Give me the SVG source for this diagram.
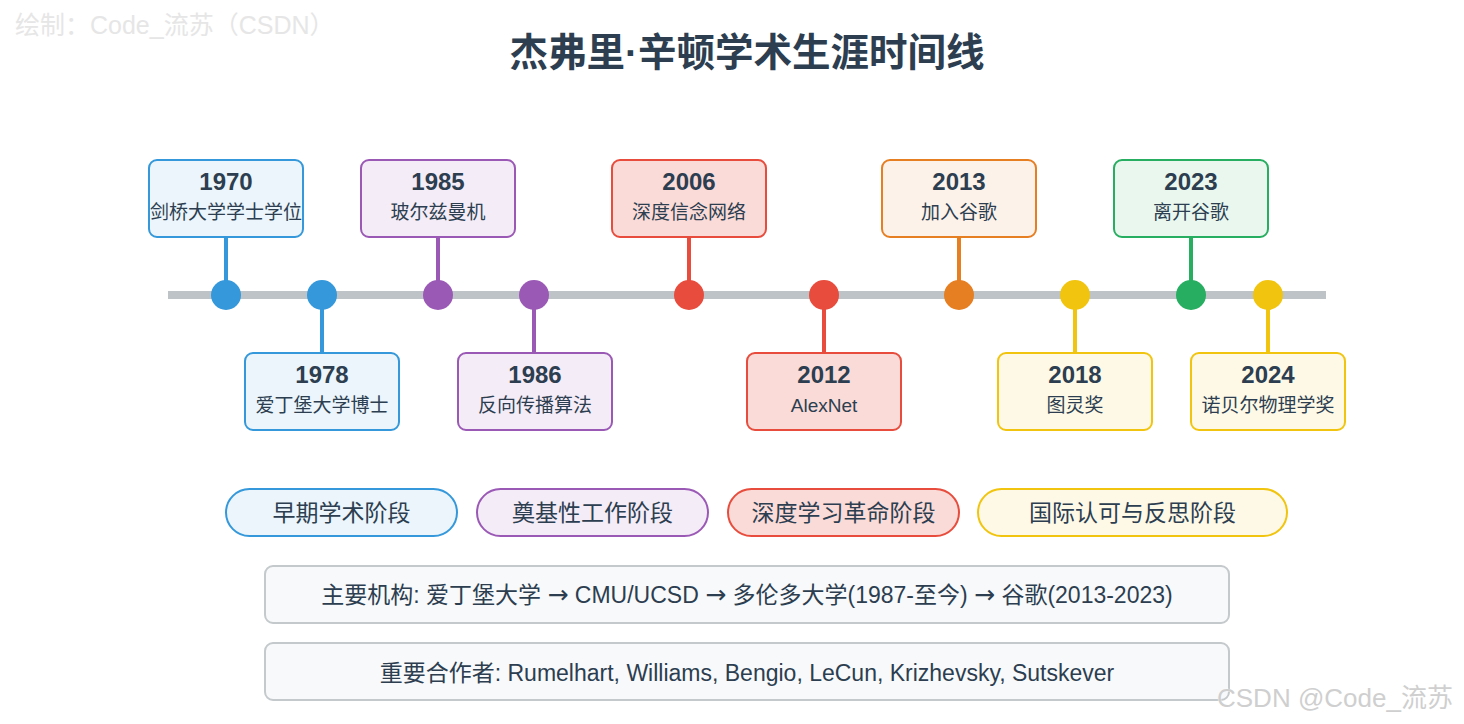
<svg xmlns="http://www.w3.org/2000/svg" width="1464" height="724" viewBox="0 0 1464 724">
<style>
text{font-family:"Liberation Sans","Noto Sans CJK SC",sans-serif;fill:#2c3e50}
.title{font-size:38.5px;font-weight:bold;text-anchor:middle}
.yr{font-size:24px;font-weight:bold;text-anchor:middle}
.ds{font-size:19px;text-anchor:middle}
.ph{font-size:23px;text-anchor:middle}
.info{font-size:23px;text-anchor:middle}
.arr{font-family:"DejaVu Sans",sans-serif;font-size:25px}
.box{stroke-width:2}
.stem{stroke-width:4}
.blue{fill:#ebf5fb;stroke:#3498db}
.purple{fill:#f4ecf7;stroke:#9b59b6}
.red{fill:#fadbd8;stroke:#e74c3c}
.orange{fill:#fdf2e9;stroke:#e67e22}
.green{fill:#e9f7ef;stroke:#27ae60}
.yellow{fill:#fef9e7;stroke:#f1c40f}
.ib{fill:#f8f9fa;stroke:#c4c9cc;stroke-width:2}
.wm{font-size:25px;fill:#e3e3e3}
</style>
<rect width="1464" height="724" fill="#ffffff"/>
<text x="15" y="34" class="wm" style="fill:#e6e6e6">绘制：Code_流苏（CSDN）</text>
<text x="747" y="66" class="title">杰弗里·辛顿学术生涯时间线</text>

<g id="connectors">
<line x1="168" y1="295" x2="1326" y2="295" stroke="#bdc3c7" stroke-width="8"/>
<line class="stem" x1="226" y1="237" x2="226" y2="290" stroke="#3498db"/>
<line class="stem" x1="322" y1="300" x2="322" y2="353" stroke="#3498db"/>
<line class="stem" x1="438" y1="237" x2="438" y2="290" stroke="#9b59b6"/>
<line class="stem" x1="534" y1="300" x2="534" y2="353" stroke="#9b59b6"/>
<line class="stem" x1="689" y1="237" x2="689" y2="290" stroke="#e74c3c"/>
<line class="stem" x1="824" y1="300" x2="824" y2="353" stroke="#e74c3c"/>
<line class="stem" x1="959" y1="237" x2="959" y2="290" stroke="#e67e22"/>
<line class="stem" x1="1075" y1="300" x2="1075" y2="353" stroke="#f1c40f"/>
<line class="stem" x1="1191" y1="237" x2="1191" y2="290" stroke="#27ae60"/>
<line class="stem" x1="1268" y1="300" x2="1268" y2="353" stroke="#f1c40f"/>
<circle cx="226" cy="295" r="15" fill="#3498db"/>
<circle cx="322" cy="295" r="15" fill="#3498db"/>
<circle cx="438" cy="295" r="15" fill="#9b59b6"/>
<circle cx="534" cy="295" r="15" fill="#9b59b6"/>
<circle cx="689" cy="295" r="15" fill="#e74c3c"/>
<circle cx="824" cy="295" r="15" fill="#e74c3c"/>
<circle cx="959" cy="295" r="15" fill="#e67e22"/>
<circle cx="1075" cy="295" r="15" fill="#f1c40f"/>
<circle cx="1191" cy="295" r="15" fill="#27ae60"/>
<circle cx="1268" cy="295" r="15" fill="#f1c40f"/>
</g>

<g id="e1970"><rect class="box blue" x="149" y="160" width="154" height="77" rx="8"/><text class="yr" x="226" y="190">1970</text><text class="ds" x="226" y="219">剑桥大学学士学位</text></g>
<g id="e1985"><rect class="box purple" x="361" y="160" width="154" height="77" rx="8"/><text class="yr" x="438" y="190">1985</text><text class="ds" x="438" y="219">玻尔兹曼机</text></g>
<g id="e2006"><rect class="box red" x="612" y="160" width="154" height="77" rx="8"/><text class="yr" x="689" y="190">2006</text><text class="ds" x="689" y="219">深度信念网络</text></g>
<g id="e2013"><rect class="box orange" x="882" y="160" width="154" height="77" rx="8"/><text class="yr" x="959" y="190">2013</text><text class="ds" x="959" y="219">加入谷歌</text></g>
<g id="e2023"><rect class="box green" x="1114" y="160" width="154" height="77" rx="8"/><text class="yr" x="1191" y="190">2023</text><text class="ds" x="1191" y="219">离开谷歌</text></g>

<g id="e1978"><rect class="box blue" x="245" y="353" width="154" height="77" rx="8"/><text class="yr" x="322" y="383">1978</text><text class="ds" x="322" y="412">爱丁堡大学博士</text></g>
<g id="e1986"><rect class="box purple" x="458" y="353" width="154" height="77" rx="8"/><text class="yr" x="535" y="383">1986</text><text class="ds" x="535" y="412">反向传播算法</text></g>
<g id="e2012"><rect class="box red" x="747" y="353" width="154" height="77" rx="8"/><text class="yr" x="824" y="383">2012</text><text class="ds" x="824" y="412">AlexNet</text></g>
<g id="e2018"><rect class="box yellow" x="998" y="353" width="154" height="77" rx="8"/><text class="yr" x="1075" y="383">2018</text><text class="ds" x="1075" y="412">图灵奖</text></g>
<g id="e2024"><rect class="box yellow" x="1191" y="353" width="154" height="77" rx="8"/><text class="yr" x="1268" y="383">2024</text><text class="ds" x="1268" y="412">诺贝尔物理学奖</text></g>

<g id="phase1"><rect class="box blue" x="226" y="489" width="231" height="47" rx="23.5"/><text class="ph" x="341.5" y="521">早期学术阶段</text></g>
<g id="phase2"><rect class="box purple" x="477" y="489" width="231" height="47" rx="23.5"/><text class="ph" x="592.5" y="521">奠基性工作阶段</text></g>
<g id="phase3"><rect class="box red" x="728" y="489" width="231" height="47" rx="23.5"/><text class="ph" x="843.5" y="521">深度学习革命阶段</text></g>
<g id="phase4"><rect class="box yellow" x="978" y="489" width="309" height="47" rx="23.5"/><text class="ph" x="1132.5" y="521">国际认可与反思阶段</text></g>

<g id="institutions"><rect class="ib" x="265" y="566" width="964" height="57" rx="8"/><text class="info" x="747" y="603">主要机构: 爱丁堡大学 <tspan class="arr">→</tspan> CMU/UCSD <tspan class="arr">→</tspan> 多伦多大学(1987-至今) <tspan class="arr">→</tspan> 谷歌(2013-2023)</text></g>
<g id="collaborators"><rect class="ib" x="265" y="643" width="964" height="57" rx="8"/><text class="info" x="747" y="681">重要合作者: Rumelhart, Williams, Bengio, LeCun, Krizhevsky, Sutskever</text></g>

<text x="1217" y="707" class="wm" style="font-size:26px;fill:#cfcfcf;stroke:#ffffff;stroke-width:0.6;paint-order:stroke">CSDN @Code_流苏</text>
</svg>
